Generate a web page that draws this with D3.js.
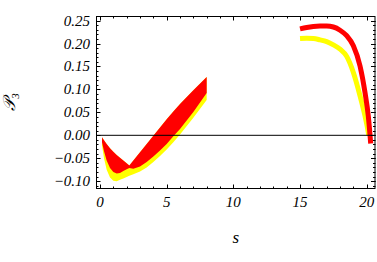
<!DOCTYPE html>
<html>
<head>
<meta charset="utf-8">
<script src="https://cdn.jsdelivr.net/npm/d3@7"></script>
<style>
  body { margin: 0; background: #fff; }
  svg text { font-family: "Liberation Serif", "Times New Roman", serif; font-style: italic; }
</style>
</head>
<body>
<div class="chart"></div>
<script>
// data
var sLeft = [0.15, 0.3, 0.5, 0.75, 1.0, 1.25, 1.5, 1.75, 2.0, 2.2, 2.5, 3.0, 3.5, 4.0, 4.5, 5.0, 5.5, 6.0, 7.0, 8.0];
var redUpper = [-0.004, -0.011, -0.019, -0.028, -0.036, -0.043, -0.049, -0.055, -0.061, -0.066, -0.055, -0.037, -0.019, -0.001, 0.017, 0.035, 0.052, 0.068, 0.098, 0.127];
var redLower = [-0.015, -0.035, -0.055, -0.071, -0.080, -0.083, -0.082, -0.078, -0.074, -0.071, -0.073, -0.068, -0.058, -0.046, -0.033, -0.019, -0.002, 0.014, 0.051, 0.092];
var yellowLower = [-0.022, -0.050, -0.075, -0.092, -0.099, -0.100, -0.097, -0.094, -0.091, -0.088, -0.085, -0.079, -0.070, -0.058, -0.045, -0.031, -0.015, 0.002, 0.038, 0.077];

var sRed = [15.0, 15.5, 16.0, 16.5, 17.0, 17.5, 18.0, 18.5, 19.0, 19.5, 19.875, 20.12, 20.25, 20.3];
var redRight = [0.232, 0.235, 0.237, 0.238, 0.238, 0.236, 0.229, 0.217, 0.195, 0.151, 0.093, 0.042, 0.000, -0.018];
var sYellow = [15.0, 15.5, 16.0, 16.5, 17.0, 17.5, 18.0, 18.5, 19.0, 19.5, 19.875, 20.12, 20.15];
var yellowRight = [0.211, 0.2115, 0.211, 0.208, 0.204, 0.197, 0.188, 0.172, 0.137, 0.086, 0.042, 0.006, 0.000];

var xTicks = [0, 5, 10, 15, 20];
var yTicks = [-0.10, -0.05, 0.00, 0.05, 0.10, 0.15, 0.20, 0.25];

var svgWidth = 377;
var svgHeight = 262;
var margin = {top: 16, right: 1.5, bottom: 73, left: 96};
var width = svgWidth - margin.left - margin.right;
var height = svgHeight - margin.top - margin.bottom;

var svg = d3.select('.chart')
  .append('svg')
  .attr('width', svgWidth)
  .attr('height', svgHeight);

var chart = svg.append('g')
  .attr('transform', 'translate(' + margin.left + ',' + margin.top + ')');

var x = d3.scaleLinear().domain([-0.3, 20.66]).range([0, width]);
var y = d3.scaleLinear().domain([-0.117, 0.260]).range([height, 0]);

// left bands
var yellowBand = d3.area()
  .x(function(d, i) { return x(sLeft[i]); })
  .y0(function(d, i) { return y(yellowLower[i]); })
  .y1(function(d, i) { return y(redUpper[i]); });
var redBand = d3.area()
  .x(function(d, i) { return x(sLeft[i]); })
  .y0(function(d, i) { return y(redLower[i]); })
  .y1(function(d, i) { return y(redUpper[i]); });

chart.append('path').datum(sLeft).attr('d', yellowBand).attr('fill', '#ffff00');
chart.append('path').datum(sLeft).attr('d', redBand).attr('fill', '#ff0000');

// right curves
var line = d3.line().curve(d3.curveMonotoneX);
chart.append('path')
  .datum(sYellow.map(function(s, i) { return [x(s), y(yellowRight[i])]; }))
  .attr('d', line).attr('fill', 'none').attr('stroke', '#ffff00').attr('stroke-width', 5);
chart.append('path')
  .datum(sRed.map(function(s, i) { return [x(s), y(redRight[i])]; }))
  .attr('d', line).attr('fill', 'none').attr('stroke', '#ff0000').attr('stroke-width', 5);

// zero axis
chart.append('line')
  .attr('x1', 0).attr('x2', width)
  .attr('y1', y(0)).attr('y2', y(0))
  .attr('stroke', '#000').attr('stroke-width', 1);

// frame ticks
var xMinor = d3.range(0, 21, 1);
var yMinor = d3.range(-11, 26, 1).map(function(k) { return k / 100; });

function tickMarks(g, vals, len, horiz) {
  vals.forEach(function(v) {
    if (horiz) {
      var px = Math.round(x(v)) + 0.5;
      g.append('line').attr('x1', px).attr('x2', px).attr('y1', height).attr('y2', height - len);
      g.append('line').attr('x1', px).attr('x2', px).attr('y1', 0).attr('y2', len);
    } else {
      var py = Math.round(y(v)) + 0.5;
      g.append('line').attr('x1', 0).attr('x2', len).attr('y1', py).attr('y2', py);
      g.append('line').attr('x1', width).attr('x2', width - len).attr('y1', py).attr('y2', py);
    }
  });
}
var tg = chart.append('g').attr('stroke', '#000').attr('stroke-width', 1);
tickMarks(tg, xMinor, 2.5, true);
tickMarks(tg, xTicks, 4.5, true);
tickMarks(tg, yMinor, 2.5, false);
tickMarks(tg, yTicks, 4.5, false);

chart.append('rect')
  .attr('x', 0.5).attr('y', 0.5)
  .attr('width', width - 1).attr('height', height - 1)
  .attr('fill', 'none').attr('stroke', '#000');

// tick labels
chart.selectAll('.xl').data(xTicks).enter().append('text')
  .attr('x', function(d) { return x(d); })
  .attr('y', height + 18)
  .attr('text-anchor', 'middle')
  .attr('font-size', 15)
  .text(function(d) { return d; });

chart.selectAll('.yl').data(yTicks).enter().append('text')
  .attr('x', -6)
  .attr('y', function(d) { return y(d) + 5; })
  .attr('text-anchor', 'end')
  .attr('font-size', 15)
  .text(function(d) { return d3.format('.2f')(d).replace('-', '\u2212'); });

// axis labels
svg.append('text')
  .attr('x', margin.left + width / 2)
  .attr('y', 243)
  .attr('text-anchor', 'middle')
  .attr('font-size', 17)
  .text('s');

var yl = svg.append('text')
  .attr('transform', 'translate(15,102) rotate(-90)')
  .attr('text-anchor', 'middle')
  .attr('font-size', 17);
yl.append('tspan').text('\uD835\uDCAB');
yl.append('tspan').attr('font-size', 11).attr('dy', 4).text('3');
</script>
</body>
</html>
